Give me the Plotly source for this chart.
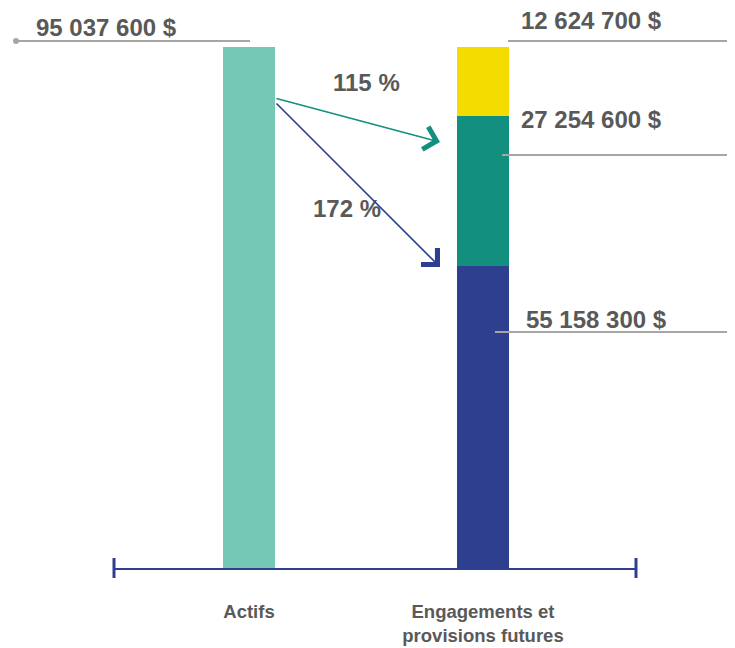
import plotly.graph_objects as go

# data
categories = ['Actifs', 'Engagements et<br>provisions futures']
actifs = [95037600, None]
seg_blue = [None, 55158300]
seg_teal = [None, 27254600]
seg_yellow = [None, 12624700]

total_actifs = actifs[0]
ratio_teal = total_actifs / (seg_blue[1] + seg_teal[1]) * 100
ratio_blue = total_actifs / seg_blue[1] * 100

# page body has an 8px margin, so the figure is drawn 8px smaller
OFF = 8
W, H = 735 - OFF, 648 - OFF
L, R, T, B = 114 - OFF, 99, 20 - OFF, 80
pw, ph = W - L - R, H - T - B


def px(x):
    return (x - OFF - L) / pw


def py(y):
    return (H - B - (y - OFF)) / ph


def fmt(v):
    return '{:,}'.format(v).replace(',', ' ') + ' $'


gray_txt = '#595959'
gray_line = '#A6A6A6'
navy = '#2E3F8F'
teal = '#138F7F'
xs = [0, 1]
bw = 0.222

fig = go.Figure()
fig.add_trace(go.Bar(x=xs, y=actifs, width=bw, marker_color='#76C8B6', marker_line_width=0))
fig.add_trace(go.Bar(x=xs, y=seg_blue, width=bw, marker_color=navy, marker_line_width=0))
fig.add_trace(go.Bar(x=xs, y=seg_teal, width=bw, marker_color=teal, marker_line_width=0))
fig.add_trace(go.Bar(x=xs, y=seg_yellow, width=bw, marker_color='#F5DC00', marker_line_width=0))

fig.update_layout(
    barmode='stack',
    width=W, height=H,
    margin=dict(l=L, r=R, t=T, b=B, autoexpand=False),
    showlegend=False,
    plot_bgcolor='white',
    paper_bgcolor='white',
    xaxis=dict(
        range=[-0.577, 1.654],
        tickvals=xs,
        ticktext=categories,
        showgrid=False, zeroline=False,
        showline=True, linecolor=navy, linewidth=2,
        ticks='',
        ticklabelstandoff=26,
        tickfont=dict(family='Liberation Sans, Arial', size=18.5, color=gray_txt, weight='bold'),
    ),
    yaxis=dict(
        range=[0, total_actifs * ph / 521],
        visible=False,
    ),
)

shapes = []
# end ticks of the axis
for xe in [0, 1]:
    shapes.append(dict(type='line', xref='paper', yref='paper', x0=xe, x1=xe,
                       ysizemode='pixel', yanchor=0, y0=-10, y1=10,
                       line=dict(color=navy, width=3)))

# leader lines for value labels
leaders = [(15, 250, 41), (508, 735, 41), (502, 735, 155), (495, 731, 332)]
for x0, x1, y in leaders:
    shapes.append(dict(type='line', xref='paper', yref='paper', x0=px(x0), x1=px(x1),
                       y0=py(y), y1=py(y), line=dict(color=gray_line, width=2)))
for cx, cy in [(16, 41), (734, 332)]:
    shapes.append(dict(type='circle', xref='paper', yref='paper',
                       xsizemode='pixel', ysizemode='pixel', xanchor=px(cx), yanchor=py(cy),
                       x0=-3, x1=3, y0=-3, y1=3,
                       fillcolor=gray_line, line=dict(width=0)))
fig.update_layout(shapes=shapes)

lab_font = dict(family='Liberation Sans, Arial', size=24, color=gray_txt, weight='bold')
annotations = []
for text, x, y in [(fmt(total_actifs), 34, 27), (fmt(seg_yellow[1]), 519, 20),
                   (fmt(seg_teal[1]), 519, 119), (fmt(seg_blue[1]), 524, 319)]:
    annotations.append(dict(xref='paper', yref='paper', x=px(x), y=py(y),
                            xanchor='left', yanchor='middle', text=text,
                            font=lab_font, showarrow=False))

# ratio labels
annotations.append(dict(xref='paper', yref='paper', x=px(366), y=py(82),
                        xanchor='center', yanchor='middle',
                        text='{:.0f} %'.format(ratio_teal), font=lab_font, showarrow=False))
annotations.append(dict(xref='paper', yref='paper', x=px(347), y=py(208),
                        xanchor='center', yanchor='middle',
                        text='{:.0f} %'.format(ratio_blue), font=lab_font, showarrow=False))

# arrows (tail on the Actifs bar, head next to the stacked bar)
for color, y0, y1 in [(teal, 98, 142), (navy, 102, 267)]:
    annotations.append(dict(xref='paper', yref='paper', axref='pixel', ayref='pixel',
                            x=px(440), y=py(y1), ax=275 - 440, ay=y0 - y1,
                            text='', showarrow=True, arrowhead=4, arrowsize=2.8,
                            arrowwidth=1.6, arrowcolor=color))
fig.update_layout(annotations=annotations)

fig.write_html('out.html')
